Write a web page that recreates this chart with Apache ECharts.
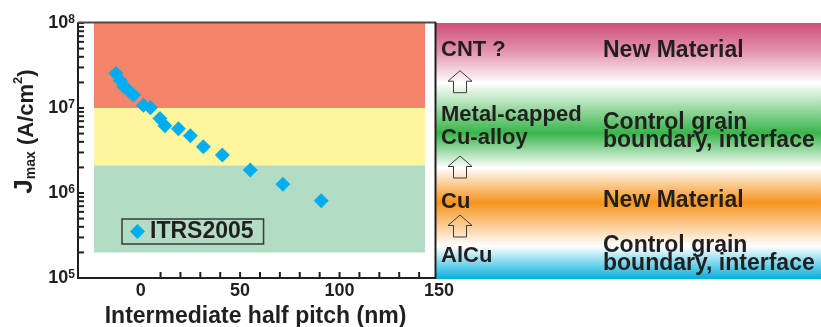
<!DOCTYPE html>
<html>
<head>
<meta charset="utf-8">
<script src="https://cdn.jsdelivr.net/npm/echarts@6/dist/echarts.min.js"></script>
<style>
html, body { margin: 0; padding: 0; background: #fff; }
#chart { width: 821px; height: 327px; }
</style>
</head>
<body>
<div id="chart"></div>
<script>
// ITRS 2005 maximum current density versus intermediate half pitch
const halfPitch = [-12.4, -10.2, -8.4, -6.1, -3.6, 1.4, 4.9, 9.7, 12.2, 19.0, 25.0, 31.5, 41.1, 55.1, 71.5, 90.8];
const jmax = [2.55e7, 2.11e7, 1.79e7, 1.61e7, 1.42e7, 1.08e7, 1.01e7, 7.5e6, 6.2e6, 5.7e6, 4.7e6, 3.5e6, 2.8e6, 1.87e6, 1.27e6, 8.1e5];
const seriesName = 'ITRS2005';

// Background regions (current density ranges) and their horizontal extent
const bandRanges = [[1e7, 1e8], [2.1e6, 1e7], [2e5, 2.1e6]];
const bandHalfPitch = [-23.5, 143];

// Axis ticks
const xRange = [-31.5, 150];
const xLabelValues = [0, 50, 100, 150];
const xTickValues = [10, 20, 30, 40, 50, 60, 70, 80, 90, 100, 110, 120, 130, 140];
const yDecades = [1e5, 1e6, 1e7, 1e8];

// Interconnect material roadmap, read upward along the arrows
const materials = ['CNT ?', 'Metal-capped\nCu-alloy', 'Cu', 'AlCu'];
const approaches = ['New Material', 'Control grain\nboundary, interface', 'New Material', 'Control grain\nboundary, interface'];

const FONT = '"Liberation Sans", Arial, Helvetica, sans-serif';
const INK = '#231f20';
const bandColors = ['#f4846a', '#fff59c', '#b2dcc3'];

// 2..9 x 10^n tick values between the decades of the log axis
const yTickValues = [];
for (let d = 0; d < yDecades.length - 1; d++) {
  for (let k = 2; k <= 9; k++) yTickValues.push(yDecades[d] * k);
}

const points = halfPitch.map((x, i) => [x, jmax[i]]);

const markAreaData = bandRanges.map((r, i) => [
  { xAxis: bandHalfPitch[0], yAxis: r[0], itemStyle: { color: bandColors[i], opacity: 1 } },
  { xAxis: bandHalfPitch[1], yAxis: r[1] }
]);

// Right-hand roadmap panel layout
const GRID = { left: 78, top: 23, width: 361, height: 255 };
const materialY = [50.3, 126.7, 202.3, 255.6];
const approachY = [50.3, 131.3, 200.6, 254.8];
const approachLH = [22, 18, 22, 18.4];
const arrowTops = [70.7, 156, 215];

function upArrow(top) {
  const cx = 460, hw = 12, sw = 6.5, head = 10.5, h = 22;
  return {
    type: 'polygon',
    z: 110,
    shape: {
      points: [
        [cx, top], [cx + hw, top + head], [cx + sw, top + head], [cx + sw, top + h],
        [cx - sw, top + h], [cx - sw, top + head], [cx - hw, top + head]
      ]
    },
    style: { fill: 'rgba(255,255,255,0)', stroke: '#3a3a3a', lineWidth: 1 }
  };
}

const graphics = [
  {
    type: 'rect', z: 100,
    shape: { x: 436, y: 23, width: 385, height: 256 },
    style: {
      fill: new echarts.graphic.LinearGradient(0, 0, 0, 1, [
        { offset: 0, color: '#cf4d79' },
        { offset: 0.11, color: '#e293ae' },
        { offset: 0.235, color: '#ffffff' },
        { offset: 0.43, color: '#39b54a' },
        { offset: 0.565, color: '#ffffff' },
        { offset: 0.70, color: '#f7941d' },
        { offset: 0.872, color: '#ffffff' },
        { offset: 1, color: '#00b1dc' }
      ])
    }
  },
  // plot frame: top and right edges
  { type: 'line', z: 105, shape: { x1: 78, y1: 22.5, x2: 436, y2: 22.5 }, style: { stroke: '#4a4a4a', lineWidth: 2 } },
  { type: 'line', z: 105, shape: { x1: 435.5, y1: 22, x2: 435.5, y2: 279 }, style: { stroke: '#231f20', lineWidth: 2 } }
];
materials.forEach((t, i) => {
  graphics.push({
    type: 'text', z: 110,
    style: { text: t, x: 441, y: materialY[i], fill: INK, font: 'bold 22px ' + FONT, verticalAlign: 'middle', lineHeight: 23.3 }
  });
});
approaches.forEach((t, i) => {
  graphics.push({
    type: 'text', z: 110,
    style: { text: t, x: 603, y: approachY[i], fill: INK, font: 'bold 23px ' + FONT, verticalAlign: 'middle', lineHeight: approachLH[i] }
  });
});
arrowTops.forEach(t => graphics.push(upArrow(t)));

// Inward tick marks: small bars anchored on the axis lines
const TICK_LEN = 6, TICK_W = 2;
function tickMarks(data, vertical) {
  return {
    type: 'scatter',
    silent: true,
    clip: false,
    z: 20,
    symbol: 'rect',
    symbolSize: vertical ? [TICK_W, TICK_LEN] : [TICK_LEN, TICK_W],
    symbolOffset: vertical ? [0, -TICK_LEN / 2] : [TICK_LEN / 2, 0],
    itemStyle: { color: '#231f20', opacity: 1 },
    emphasis: { disabled: true },
    data: data
  };
}

const chart = echarts.init(document.getElementById('chart'), null, { renderer: 'canvas' });
chart.setOption({
  animation: false,
  backgroundColor: '#ffffff',
  textStyle: { fontFamily: FONT },
  grid: Object.assign({ containLabel: false, outerBoundsMode: 'none' }, GRID),
  legend: {
    left: 122, top: 219,
    data: [{ name: seriesName, icon: 'diamond' }],
    itemWidth: 15, itemHeight: 15, itemGap: 0,
    padding: [1, 10, 1, 8],
    borderColor: '#3a3a3a', borderWidth: 1.5,
    textStyle: { fontSize: 23, fontWeight: 'bold', color: INK, fontFamily: FONT, lineHeight: 19 }
  },
  xAxis: {
    type: 'value',
    min: xRange[0], max: xRange[1],
    name: 'Intermediate half pitch (nm)',
    nameLocation: 'middle',
    nameGap: 19,
    nameTextStyle: { fontSize: 23, fontWeight: 'bold', color: INK, fontFamily: FONT, padding: [0, 6, 0, 0] },
    axisLine: { show: true, onZero: false, lineStyle: { color: '#231f20', width: 2 } },
    axisTick: { show: false },
    axisLabel: { customValues: xLabelValues, margin: 4, fontSize: 18, fontWeight: 'bold', color: INK, fontFamily: FONT },
    splitLine: { show: false }
  },
  yAxis: {
    type: 'log',
    logBase: 10,
    min: yDecades[0], max: yDecades[yDecades.length - 1],
    name: '{j|J}{m|max}{n| (A/cm}{s|2}{n|)}',
    nameLocation: 'middle',
    nameRotate: 90,
    nameGap: 40,
    nameTextStyle: {
      color: INK, fontFamily: FONT, fontWeight: 'bold',
      padding: [0, 0, 0, 38],
      rich: {
        j: { fontSize: 26, fontWeight: 'bold', fontFamily: FONT, color: INK, verticalAlign: 'bottom', lineHeight: 26 },
        m: { fontSize: 14, fontWeight: 'bold', fontFamily: FONT, color: INK, verticalAlign: 'bottom', lineHeight: 14 },
        n: { fontSize: 22, fontWeight: 'bold', fontFamily: FONT, color: INK, verticalAlign: 'bottom', lineHeight: 24 },
        s: { fontSize: 13, fontWeight: 'bold', fontFamily: FONT, color: INK, verticalAlign: 'top', lineHeight: 13 }
      }
    },
    axisLine: { show: true, onZero: false, lineStyle: { color: '#231f20', width: 2 } },
    axisTick: { show: true, inside: true, length: 6, lineStyle: { color: '#231f20', width: 2 } },
    axisLabel: {
      customValues: yDecades,
      margin: 3,
      formatter: v => '{a|10}{s|' + Math.round(Math.log10(v)) + '}',
      rich: {
        a: { fontSize: 18, fontWeight: 'bold', fontFamily: FONT, color: INK, lineHeight: 18, verticalAlign: 'bottom' },
        s: { fontSize: 12, fontWeight: 'bold', fontFamily: FONT, color: INK, lineHeight: 12, verticalAlign: 'top' }
      }
    },
    splitLine: { show: false },
    minorTick: { show: false }
  },
  series: [
    {
      name: seriesName,
      type: 'scatter',
      symbol: 'diamond',
      symbolSize: 15,
      itemStyle: { color: '#00aeef', opacity: 1 },
      data: points,
      z: 5,
      markArea: { silent: true, z: 1, data: markAreaData }
    },
    tickMarks(yTickValues.map(v => [xRange[0], v]), false),
    tickMarks(xTickValues.map(v => [v, yDecades[0]]), true)
  ],
  graphic: graphics
});
</script>
</body>
</html>
